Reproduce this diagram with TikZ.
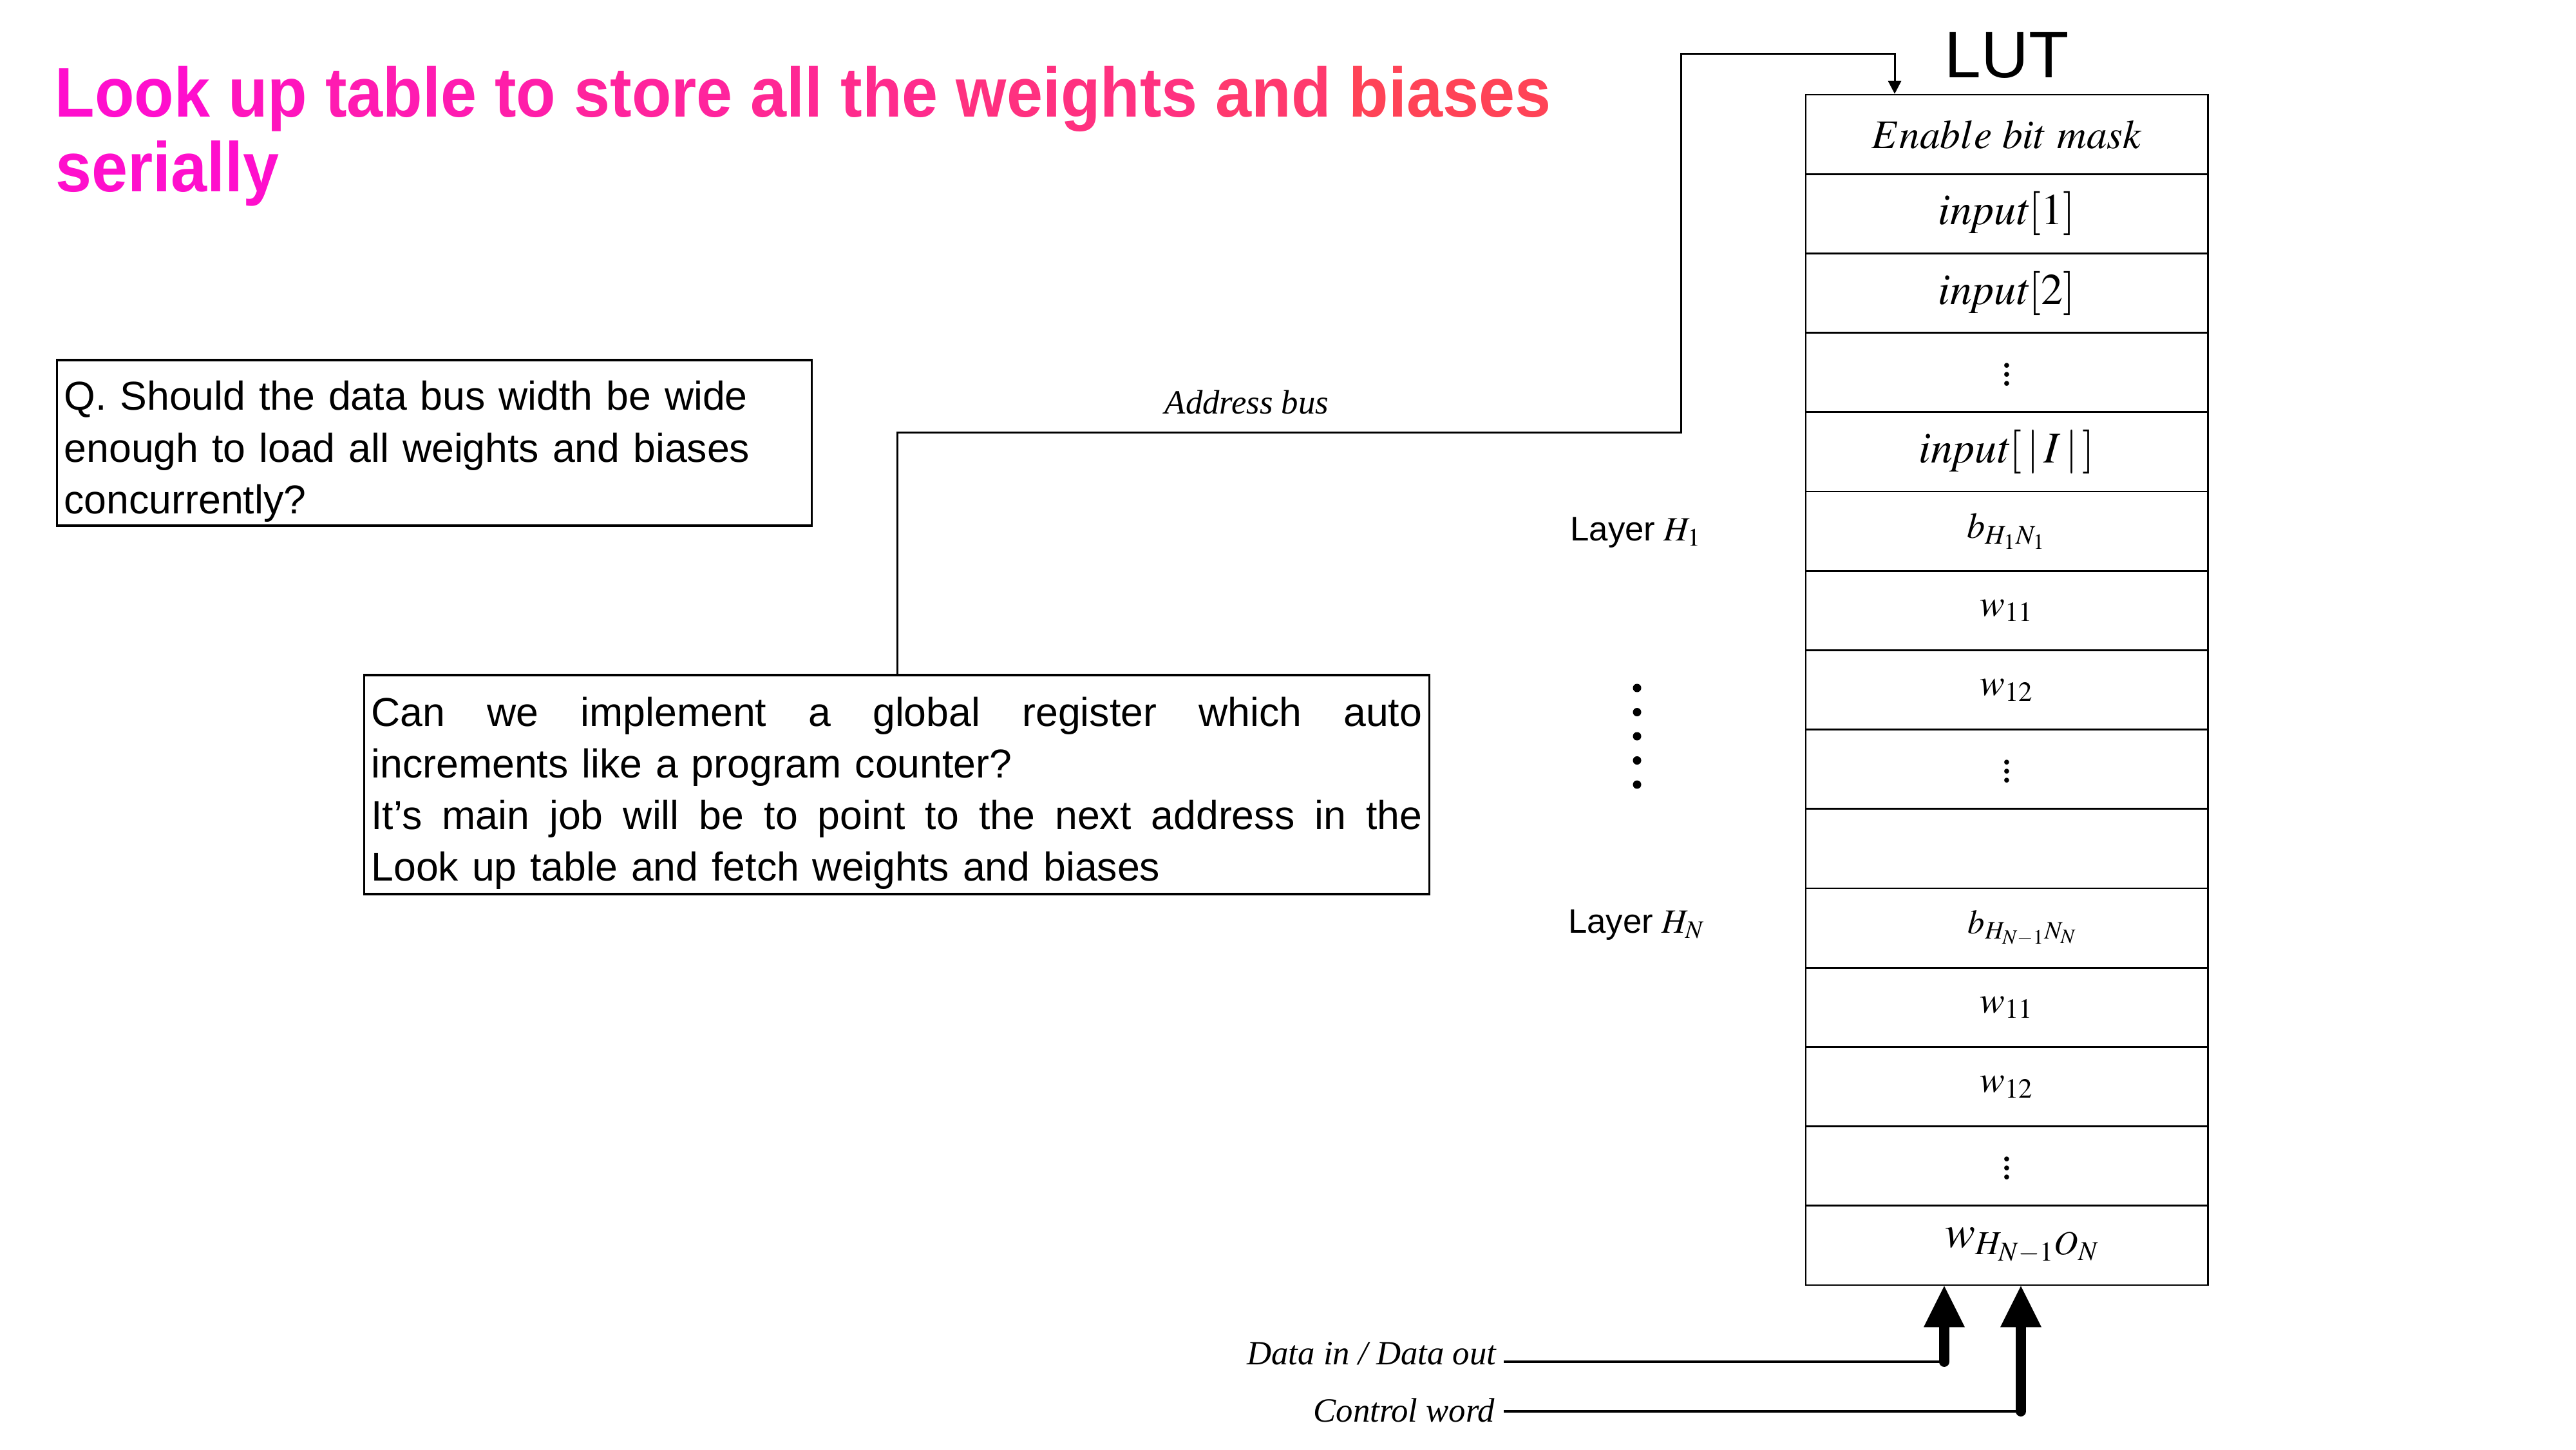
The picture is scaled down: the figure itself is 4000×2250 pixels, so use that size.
\documentclass[tikz,border=0pt]{standalone}
\usepackage{mathptmx}
\usepackage{fontspec}
\usepackage{graphicx}
\setmainfont{Liberation Serif}
\newfontfamily\sansf{Liberation Sans}
\usetikzlibrary{arrows.meta}
\definecolor{tl}{RGB}{255,10,214}
\definecolor{tr}{RGB}{255,76,68}
\newcommand{\tw}[2]{\textcolor{tr!#1!tl}{#2}}
\newcommand{\cdts}{\raisebox{4.3pt}{$\vdots$}}
\begin{document}
\begin{tikzpicture}[x=0.01cm,y=-0.01cm,
  cell/.style={draw,line width=0.75pt,minimum width=6.24cm,minimum height=1.232cm,inner sep=0pt},
  qbox/.style={draw,line width=1pt,inner xsep=0.11cm,inner ysep=0pt,align=left,
     font=\sansf\fontsize{17.8}{22.8}\selectfont},
  lab/.style={inner sep=0pt,font=\itshape\fontsize{15}{17}\selectfont},
  wire/.style={line width=1.1pt},
  bigarrow/.style={line width=4.5pt,line cap=round,-{Triangle[width=18.2pt,length=18.2pt,line width=0pt]}},
  dotmark/.style={fill=black,circle,inner sep=0pt,minimum size=0.13cm}]
\fill[white] (0,0) rectangle (4000,2250);
\useasboundingbox (0,0) rectangle (4000,2250);

% title
\node[anchor=base west,inner sep=0pt] (title1) at (85,181)
  {\scalebox{0.924}[1]{\sansf\bfseries\fontsize{31}{31}\selectfont
   \tw{6}{Look} \tw{17}{up} \tw{25}{table} \tw{31}{to} \tw{39}{store} \tw{45}{all} \tw{50}{the} \tw{59}{weights} \tw{71}{and} \tw{87}{biases}}};
\node[anchor=base west,inner sep=0pt] (title2) at (86,297)
  {\scalebox{0.924}[1]{\sansf\bfseries\fontsize{31}{31}\selectfont\tw{7}{serially}}};

% LUT label
\node[anchor=base,inner sep=0pt,font=\sansf\fontsize{29}{30}\selectfont] (lut) at (3116,120) {LUT};

% table
\node[cell] (r0) at (3116,208.6) {\fontsize{18}{20}\selectfont $Enable\ bit\ mask$};
\node[cell] (r1) at (3116,331.8) {\fontsize{19.4}{22}\selectfont $\mathit{input}[1]$};
\node[cell] (r2) at (3116,455.0) {\fontsize{19.4}{22}\selectfont $\mathit{input}[2]$};
\node[cell] (r3) at (3116,578.2) {\fontsize{18}{20}\selectfont \cdts};
\node[cell] (r4) at (3116,701.4) {\fontsize{19.4}{22}\selectfont $\mathit{input}[\,|\,I\,|\,]$};
\node[cell] (r5) at (3116,824.6) {\fontsize{16}{18}\selectfont $b_{H_1N_1}$};
\node[cell] (r6) at (3116,947.8) {\fontsize{16.5}{18}\selectfont $w_{11}$};
\node[cell] (r7) at (3116,1071.0) {\fontsize{16.5}{18}\selectfont $w_{12}$};
\node[cell] (r8) at (3116,1194.2) {\fontsize{18}{20}\selectfont \cdts};
\node[cell] (r9) at (3116,1317.4) {};
\node[cell] (r10) at (3116,1440.6) {\fontsize{15}{17}\selectfont\hspace*{0.5cm}$b_{H_{N-1}N_N}$};
\node[cell] (r11) at (3116,1563.8) {\fontsize{16.5}{18}\selectfont $w_{11}$};
\node[cell] (r12) at (3116,1687.0) {\fontsize{16.5}{18}\selectfont $w_{12}$};
\node[cell] (r13) at (3116,1810.2) {\fontsize{18}{20}\selectfont \cdts};
\node[cell] (r14) at (3116,1933.4) {\fontsize{20}{22}\selectfont\hspace*{0.5cm}$w_{H_{N-1}O_N}$};

% question boxes
\node[qbox,minimum width=11.71cm,minimum height=2.57cm,text width=11.49cm] (boxQ) at (674.5,687.5)
  {\rule{0pt}{0.72cm}Q. Should the data bus width be wide\\enough to load all weights and biases\\concurrently?};
\node[qbox,minimum width=16.53cm,minimum height=3.40cm,text width=16.31cm] (boxC) at (1392.5,1218)
  {\rule{0pt}{0.72cm}\makebox[16.31cm][l]{Can\hfill we\hfill implement\hfill a\hfill global\hfill register\hfill which\hfill auto}\\
   increments like a program counter?\\
   \makebox[16.31cm][l]{It’s\hfill main\hfill job\hfill will\hfill be\hfill to\hfill point\hfill to\hfill the\hfill next\hfill address\hfill in\hfill the}\\
   Look up table and fetch weights and biases};

% layer labels and dots
\node[inner sep=0pt,font=\fontsize{15}{17}\selectfont] (lh1) at (2540,827) {{\sansf Layer} $H_1$};
\node[inner sep=0pt,font=\fontsize{15}{17}\selectfont] (lhn) at (2541,1436) {{\sansf Layer} $H_N$};
\node[dotmark] (d1) at (2542,1068) {};
\node[dotmark] (d2) at (2542,1105.5) {};
\node[dotmark] (d3) at (2542,1143) {};
\node[dotmark] (d4) at (2542,1180.5) {};
\node[dotmark] (d5) at (2542,1218) {};

% address bus
\node[lab,anchor=base] (abus) at (1936,642) {Address bus};
\coordinate (a1) at (1393,671);
\coordinate (a2) at (2610,671);
\coordinate (a3) at (2610,83);
\coordinate (a4) at (2942,83);
\draw[line width=0.85pt,-{Triangle[width=5.7pt,length=5.7pt]}]
  (a1 |- boxC.north) -- (a1) -- (a2) -- (a3) -- (a4) -- (a4 |- r0.north);

% data / control
\node[lab,anchor=base east] (dlab) at (2324,2118) {Data in / Data out};
\node[lab,anchor=base east] (clab) at (2322,2207) {Control word};
\coordinate (din) at (2335,2114);
\coordinate (dA) at (3019,2114);
\coordinate (cin) at (2335,2191);
\coordinate (cA) at (3138,2191);
\draw[wire] (din) -- (dA);
\draw[wire] (cin) -- (cA);
\draw[bigarrow] (dA) -- (dA |- r14.south);
\draw[bigarrow] (cA) -- (cA |- r14.south);
\end{tikzpicture}
\end{document}
